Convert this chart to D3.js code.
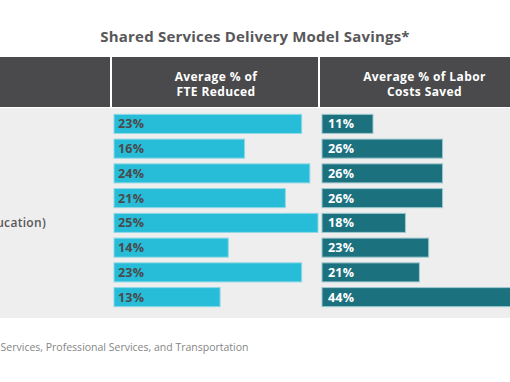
<!DOCTYPE html>
<html><head><meta charset="utf-8">
<script src="https://cdn.jsdelivr.net/npm/d3@7"></script>
<style>
html,body{margin:0;padding:0;background:#fff;overflow:hidden;}
svg{display:block;font-family:"Open Sans","Lato",sans-serif;}
</style></head>
<body>
<script>
// ---- data ----
const title = "Shared Services Delivery Model Savings*";
const headerFTE = ["Average % of", "FTE Reduced"];
const headerLabor = ["Average % of Labor", "Costs Saved"];
const rowLabels = ["", "", "", "", "Public Sector (Government and Education)", "", "", ""];
const fteReduced = [23, 16, 24, 21, 25, 14, 23, 13];
const laborSaved = [11, 26, 26, 26, 18, 23, 21, 44];
const footnote = "Financial Services, Professional Services, and Transportation";

const W = 510, H = 382;
const svg = d3.select("body").append("svg").attr("width", W).attr("height", H);

// title
svg.append("text").attr("x", 255).attr("y", 42).attr("text-anchor", "middle")
  .attr("font-size", 15).attr("font-weight", 700).attr("letter-spacing", 0.2)
  .attr("fill", "#58585a").text(title);

// header band
const hdrY = 57, hdrH = 50;
const cols = [{x0: -5, x1: 110}, {x0: 112, x1: 318}, {x0: 320, x1: 515}];
svg.selectAll("rect.hdr").data(cols).join("rect").attr("class", "hdr")
  .attr("x", d => d.x0).attr("y", hdrY).attr("width", d => d.x1 - d.x0).attr("height", hdrH)
  .attr("fill", "#4a4a4c");

function headerText(lines, cx) {
  const t = svg.append("text").attr("text-anchor", "middle").attr("font-size", 12)
    .attr("font-weight", 700).attr("letter-spacing", 0.4).attr("fill", "#fff");
  lines.forEach((l, i) => t.append("tspan").attr("x", cx).attr("y", 81 + i * 15).text(l));
}
headerText(headerFTE, 216);
headerText(headerLabor, 424.5);

// body background
svg.append("rect").attr("x", 0).attr("y", 108).attr("width", W).attr("height", 210).attr("fill", "#eeeeee");

// scales
const y = d3.scaleBand().domain(d3.range(fteReduced.length)).range([111.5, 309.5])
  .paddingInner(0.23).paddingOuter(0.115);
const leftX0 = 114, rightX0 = 322;
const xL = d3.scaleLinear().domain([0, 25]).range([0, 204]);
const xR = d3.scaleLinear().domain([0, 44]).range([0, 204]);

// left bars
svg.selectAll("rect.fte").data(fteReduced).join("rect").attr("class", "fte")
  .attr("x", leftX0).attr("y", (d, i) => y(i)).attr("width", d => xL(d)).attr("height", y.bandwidth())
  .attr("fill", "#27bcd8").attr("stroke", "#8fd8e6").attr("stroke-width", 1);
svg.selectAll("text.fte").data(fteReduced).join("text").attr("class", "fte")
  .attr("x", leftX0 + 4).attr("y", (d, i) => y(i) + y.bandwidth() / 2 + 4.5)
  .attr("font-size", 12.5).attr("font-weight", 700).attr("letter-spacing", 0.2)
  .attr("fill", "#4a4a4c").text(d => d + "%");

// right bars
svg.selectAll("rect.lab").data(laborSaved).join("rect").attr("class", "lab")
  .attr("x", rightX0).attr("y", (d, i) => y(i)).attr("width", d => xR(d)).attr("height", y.bandwidth())
  .attr("fill", "#1c717f").attr("stroke", "#9cc8cf").attr("stroke-width", 1);
svg.selectAll("text.lab").data(laborSaved).join("text").attr("class", "lab")
  .attr("x", rightX0 + 6).attr("y", (d, i) => y(i) + y.bandwidth() / 2 + 4.5)
  .attr("font-size", 12.5).attr("font-weight", 700).attr("letter-spacing", 0.2)
  .attr("fill", "#ffffff").text(d => d + "%");

// row labels (right-aligned, mostly cropped off-canvas)
svg.selectAll("text.row").data(rowLabels).join("text").attr("class", "row")
  .attr("x", 46).attr("y", (d, i) => y(i) + y.bandwidth() / 2 + 4.5).attr("text-anchor", "end")
  .attr("font-size", 12).attr("font-weight", 600).attr("letter-spacing", 0.3)
  .attr("fill", "#58585a").text(d => d);

// footnote
svg.append("text").attr("x", 248.5).attr("y", 351).attr("text-anchor", "end")
  .attr("font-size", 10.5).attr("fill", "#858585").text(footnote);
</script>
</body></html>
